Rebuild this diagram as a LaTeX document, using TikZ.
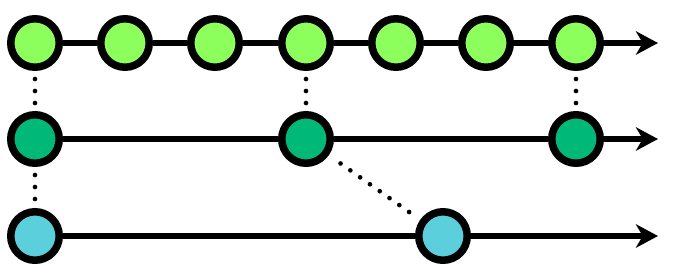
\documentclass[tikz,border=0pt]{standalone}
\usepackage{tikz}
\usetikzlibrary{arrows.meta,positioning}
\definecolor{lgr}{HTML}{8CFF5C}
\definecolor{dgr}{HTML}{00B877}
\definecolor{cya}{HTML}{5BCFDB}
\begin{document}
\begin{tikzpicture}[x=0.03cm, y=-0.03cm,
  cmt/.style={circle, draw=black, line width=0.225cm, minimum size=1.455cm, inner sep=0pt, fill=#1},
  cmt/.default=lgr, ln/.style={line width=0.165cm},
  ar/.style={ln, -{Stealth[length=0.66cm, width=0.7cm, inset=0.2cm]}},
  dots/.style={line width=0.14cm, line cap=round, dash pattern=on 0pt off 0.36cm, shorten <=0.24cm, shorten >=0.18cm}]
\useasboundingbox (0,0) rectangle (676,279);
% main line
\node[cmt] (t0) at (35,43) {}; \node[cmt] (t1) at (125,43) {}; \node[cmt] (t2) at (215,43) {};
\node[cmt] (t3) at (306,43) {}; \node[cmt] (t4) at (396,43) {}; \node[cmt] (t5) at (486,43) {};
\node[cmt] (t6) at (576,43) {};
\coordinate (e1) at (658,43);
% branches
\node[cmt=dgr] (m0) at (35,139) {}; \node[cmt=dgr] (m1) at (306,139) {}; \node[cmt=dgr] (m2) at (576,139) {};
\coordinate (e2) at (658,139);
\node[cmt=cya] (b0) at (35,236) {}; \node[cmt=cya] (b1) at (443,236) {};
\coordinate (e3) at (658,236);
\draw[ln] (t0) -- (t1); \draw[ln] (t1) -- (t2); \draw[ln] (t2) -- (t3);
\draw[ln] (t3) -- (t4); \draw[ln] (t4) -- (t5); \draw[ln] (t5) -- (t6); \draw[ar] (t6) -- (e1);
\draw[ln] (m0) -- (m1); \draw[ln] (m1) -- (m2); \draw[ar] (m2) -- (e2);
\draw[ln] (b0) -- (b1); \draw[ar] (b1) -- (e3);
\draw[dots] (t0) -- (m0); \draw[dots] (t3) -- (m1); \draw[dots] (t6) -- (m2);
\draw[dots] (m0) -- (b0);
\draw[dots, shorten <=0.43cm, shorten >=0.36cm] (m1) -- (b1);
\end{tikzpicture}
\end{document}
